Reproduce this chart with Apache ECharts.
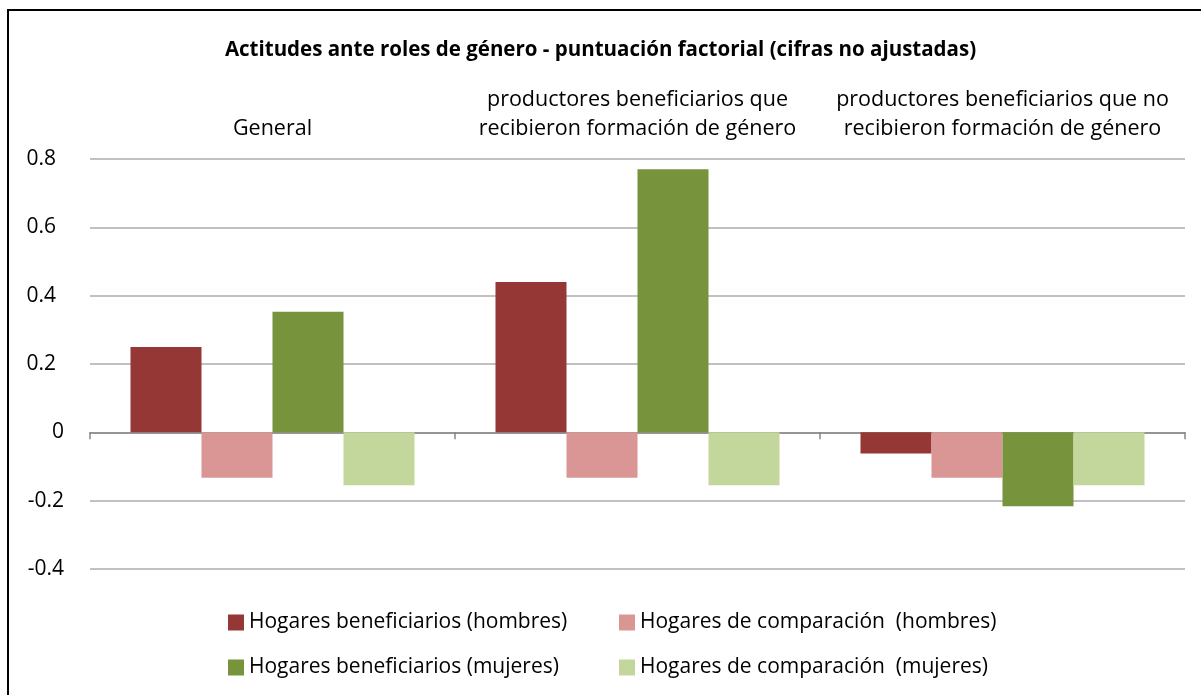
<!DOCTYPE html>
<html>
<head>
<meta charset="utf-8">
<script src="https://cdn.jsdelivr.net/npm/echarts@6/dist/echarts.min.js"></script>
<style>
  html, body { margin: 0; padding: 0; background: #fff; overflow: hidden; }
  #chart { position: absolute; left: 0; top: 0; width: 1201px; height: 695px; }
  #frame { position: absolute; left: 7px; top: 9px; width: 1300px; height: 800px; border: 2px solid #000; pointer-events: none; }
</style>
</head>
<body>
<div id="chart"></div>
<div id="frame"></div>
<script>
const titleText = 'Actitudes ante roles de género - puntuación factorial (cifras no ajustadas)';
const categories = [
  'General',
  'productores beneficiarios que\nrecibieron formación de género',
  'productores beneficiarios que no\nrecibieron formación de género'
];
const seriesNames = [
  'Hogares beneficiarios (hombres)',
  'Hogares de comparación  (hombres)',
  'Hogares beneficiarios (mujeres)',
  'Hogares de comparación  (mujeres)'
];
const benefHombres = [0.25, 0.44, -0.062];
const compHombres = [-0.133, -0.133, -0.133];
const benefMujeres = [0.353, 0.77, -0.216];
const compMujeres = [-0.155, -0.155, -0.155];
const colors = ['#953735', '#D99694', '#77933C', '#C3D69B'];
const yMin = -0.4, yMax = 0.8, yStep = 0.2;

const FONT = 'Open Sans';
const seriesData = [benefHombres, compHombres, benefMujeres, compMujeres];

const chart = echarts.init(document.getElementById('chart'), null, { renderer: 'canvas' });
chart.setOption({
  animation: false,
  backgroundColor: '#fff',
  textStyle: { fontFamily: FONT, color: '#000' },
  title: {
    text: titleText,
    left: 'center',
    top: 35,
    textStyle: { fontFamily: FONT, fontSize: 20.5, fontWeight: 'bold', color: '#000' }
  },
  legend: [
    {
      orient: 'vertical', left: 223, top: 607, itemWidth: 16, itemHeight: 16, itemGap: 24,
      icon: 'rect', data: [seriesNames[0], seriesNames[2]],
      textStyle: { fontFamily: FONT, fontSize: 21, color: '#000' }
    },
    {
      orient: 'vertical', left: 614, top: 607, itemWidth: 16, itemHeight: 16, itemGap: 24,
      icon: 'rect', data: [seriesNames[1], seriesNames[3]],
      textStyle: { fontFamily: FONT, fontSize: 21, color: '#000' }
    }
  ],
  grid: { left: 90, right: 16, top: 159, bottom: 126, containLabel: false },
  xAxis: [
    {
      type: 'category', data: categories, position: 'bottom',
      axisLine: { onZero: true, lineStyle: { color: '#868686', width: 1.5 } },
      axisTick: { show: true, length: 7, lineStyle: { color: '#868686', width: 1.5 } },
      axisLabel: { show: false }
    },
    {
      type: 'category', data: categories, position: 'top',
      axisLine: { show: false }, axisTick: { show: false },
      axisLabel: { show: true, interval: 0, hideOverlap: false, margin: 16, fontFamily: FONT, fontSize: 21.5, color: '#000', lineHeight: 29, align: 'center' }
    }
  ],
  yAxis: {
    type: 'value', min: yMin, max: yMax, interval: yStep,
    axisLine: { show: false }, axisTick: { show: false },
    splitLine: { lineStyle: { color: '#ADADAD', width: 1.5 } },
    axisLabel: {
      margin: 26, fontFamily: FONT, fontSize: 21, color: '#000',
      formatter: function (v) {
        const r = Math.round(v * 10) / 10;
        if (r === 0) return '0';
        const s = r.toFixed(1);
        return r > 0 ? '{p|' + s + '}' : s;
      },
      rich: { p: { fontFamily: FONT, fontSize: 21, color: '#000', padding: [0, 8, 0, 0] } }
    }
  },
  series: seriesNames.map(function (name, i) {
    return {
      name: name, type: 'bar', xAxisIndex: 0, data: seriesData[i],
      barWidth: 71, barGap: '0%',
      itemStyle: { color: colors[i] }
    };
  })
});
</script>
</body>
</html>
